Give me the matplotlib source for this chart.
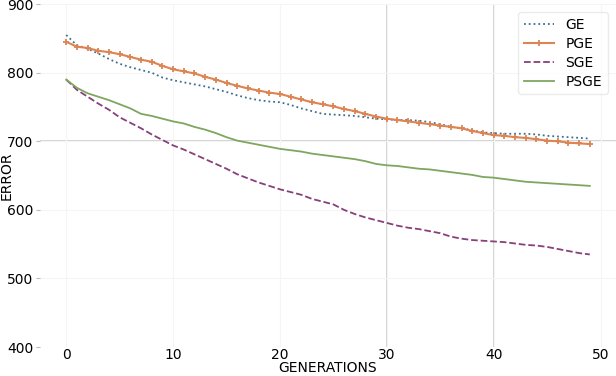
import matplotlib
matplotlib.use("Agg")
import matplotlib.pyplot as plt
import numpy as np

generations = list(range(50))

ge = [855, 840, 835, 828, 820, 813, 808, 804, 800, 793,
      789, 786, 783, 780, 776, 772, 767, 763, 760, 758,
      757, 753, 748, 744, 740, 739, 738, 737, 735, 733,
      732, 731, 731, 730, 728, 725, 721, 719, 716, 713,
      712, 711, 711, 711, 710, 708, 707, 706, 705, 704]
pge = [845, 838, 836, 832, 830, 827, 823, 819, 816, 810,
       805, 802, 799, 794, 790, 785, 781, 777, 774, 771,
       769, 765, 761, 757, 754, 751, 747, 744, 740, 736,
       733, 731, 729, 727, 725, 723, 721, 719, 715, 712,
       709, 708, 706, 705, 703, 701, 700, 698, 697, 696]
sge = [790, 775, 765, 755, 746, 735, 727, 719, 710, 702,
       694, 688, 681, 674, 667, 660, 652, 646, 640, 635,
       630, 626, 622, 616, 612, 608, 600, 594, 589, 585,
       581, 577, 574, 572, 569, 566, 561, 558, 556, 555,
       554, 553, 551, 549, 548, 546, 543, 540, 537, 535]
psge = [790, 778, 770, 765, 760, 754, 748, 740, 737, 733,
        729, 726, 721, 717, 712, 706, 701, 698, 695, 692,
        689, 687, 685, 682, 680, 678, 676, 674, 671, 667,
        665, 664, 662, 660, 659, 657, 655, 653, 651, 648,
        647, 645, 643, 641, 640, 639, 638, 637, 636, 635]

fig = plt.figure(figsize=(6.16, 3.76), dpi=100)
ax = fig.add_axes([0.065, 0.077, 0.935, 0.912])

ax.plot(generations, ge, color="#3b6e8f", linestyle=":", linewidth=1.3, label="GE")
ax.plot(generations, pge, color="#dd8452", linestyle="-", linewidth=1.5,
        marker="+", markersize=4, markeredgewidth=1.3, label="PGE")
ax.plot(generations, sge, color="#87407a", linestyle="--", linewidth=1.3, label="SGE")
ax.plot(generations, psge, color="#7ea65f", linestyle="-", linewidth=1.3, label="PSGE")

ax.set_ylim(400, 900)
ax.set_xticks([0, 10, 20, 30, 40, 50])
ax.set_yticks([400, 500, 600, 700, 800, 900])
ax.grid(True, color="#f5f5f5", linewidth=0.8)
ax.set_axisbelow(True)
# a few grid lines show darker in the original
ax.axhline(700, color="#c8c8c8", linewidth=1.1, zorder=0.5)
ax.axvline(30, color="#c8c8c8", linewidth=1.1, zorder=0.5)
ax.axvline(40, color="#c8c8c8", linewidth=1.1, zorder=0.5)

for s in ax.spines.values():
    s.set_visible(False)
ax.tick_params(axis="y", length=3, color="#bbbbbb", labelsize=10, pad=2)
ax.tick_params(axis="x", length=0, labelsize=10, pad=1)

ax.set_xlabel("GENERATIONS", fontsize=10, labelpad=-1)
ax.set_ylabel("ERROR", fontsize=10)
ax.yaxis.set_label_coords(-0.046, 0.5)

leg = ax.legend(loc="upper right", fontsize=10, frameon=True, handlelength=2.2,
                labelspacing=0.35, borderaxespad=0.6)
leg.get_frame().set_edgecolor("#e6e6e6")

fig.savefig("out.png", dpi=100)
